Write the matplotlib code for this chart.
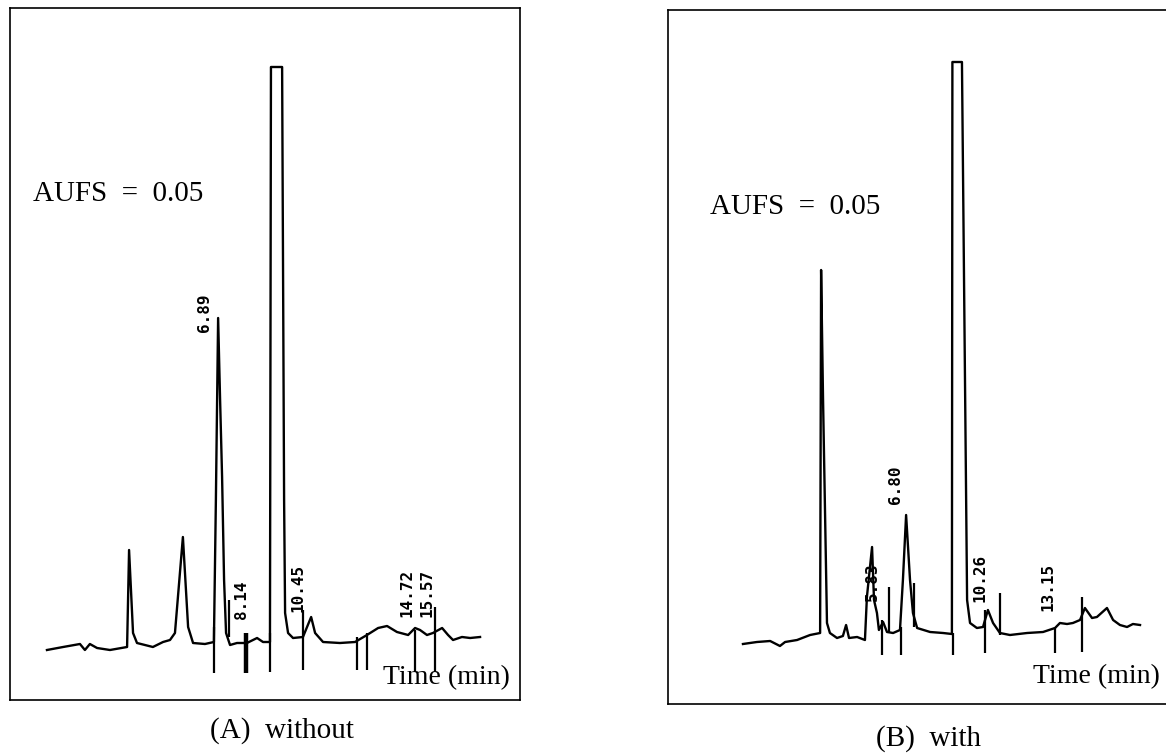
import matplotlib.pyplot as plt

# chromatogram (A) without -- time (min) vs detector response (arb. units)
time_a = [0.00, 0.65, 1.33, 1.53, 1.73, 2.02, 2.54, 3.23, 3.31, 3.47, 3.63,
          4.27, 4.68, 4.96, 5.16, 5.48, 5.69, 5.89, 6.37, 6.73, 6.81, 6.90,
          6.98, 7.06, 7.14, 7.22, 7.38, 7.66, 8.06, 8.47, 8.71, 8.99, 9.03,
          9.48, 9.56, 9.60, 9.72, 9.92, 10.32, 10.65, 10.81, 11.13, 11.81,
          12.42, 12.90, 13.35, 13.71, 14.11, 14.56, 14.84, 15.04, 15.32,
          15.56, 15.93, 16.17, 16.37, 16.73, 17.06, 17.46]
resp_a = [5.0, 5.3, 5.6, 5.0, 5.6, 5.2, 5.0, 5.3, 15.0, 6.7, 5.7,
          5.3, 5.8, 6.0, 6.7, 16.3, 7.3, 5.7, 5.6, 5.8, 20.0, 38.2,
          30.0, 22.3, 12.0, 6.7, 5.5, 5.7, 5.7, 6.2, 5.8, 5.8, 63.3,
          63.3, 20.0, 8.7, 6.7, 6.2, 6.3, 8.3, 6.7, 5.8, 5.7,
          5.8, 6.5, 7.2, 7.4, 6.8, 6.5, 7.2, 7.0, 6.5,
          6.7, 7.2, 6.5, 6.0, 6.3, 6.2, 6.3]
# integrator event marks (time, top, bottom)
mark_a_t = [6.73, 8.02, 8.99, 10.32, 12.50, 12.90, 14.84, 15.65, 7.34]
mark_a_hi = [7.3, 6.7, 6.7, 9.0, 6.3, 6.7, 7.0, 9.3, 10.0]
mark_a_lo = [2.7, 2.7, 2.8, 3.0, 3.0, 3.0, 2.8, 2.8, 6.3]
rt_a = ['6.89', '8.14', '10.45', '14.72', '15.57']

# chromatogram (B) with
time_b = [0.16, 0.73, 1.27, 1.67, 1.88, 2.37, 2.90, 3.31, 3.35, 3.43, 3.59,
          3.71, 4.00, 4.24, 4.37, 4.49, 4.82, 5.14, 5.22, 5.43, 5.51, 5.63,
          5.71, 5.88, 6.04, 6.29, 6.57, 6.69, 6.82, 6.98, 7.10, 7.27, 7.80,
          8.33, 8.69, 8.71, 9.10, 9.31, 9.43, 9.71, 9.96, 10.16, 10.37,
          10.65, 11.06, 11.76, 12.41, 12.90, 13.10, 13.39, 13.63, 13.92,
          14.12, 14.41, 14.61, 15.02, 15.27, 15.55, 15.84, 16.08, 16.37]
resp_b = [5.6, 5.8, 5.9, 5.4, 5.8, 6.0, 6.5, 6.7, 43.0, 30.0, 7.7,
          6.7, 6.2, 6.4, 7.5, 6.2, 6.3, 6.0, 10.3, 15.3, 10.0, 8.7,
          7.0, 7.8, 6.8, 6.7, 7.0, 12.0, 18.5, 12.0, 8.7, 7.2, 6.8,
          6.7, 6.6, 63.8, 63.8, 10.0, 7.7, 7.2, 7.3, 9.0, 7.7,
          6.7, 6.5, 6.7, 6.8, 7.2, 7.7, 7.6, 7.7, 8.0,
          9.2, 8.2, 8.3, 9.2, 8.0, 7.5, 7.3, 7.6, 7.5]
mark_b_t = [5.84, 6.61, 8.73, 10.04, 12.90, 14.00, 6.12, 7.14, 10.65]
mark_b_hi = [8.0, 7.3, 6.7, 9.0, 7.3, 10.3, 11.3, 11.7, 10.7]
mark_b_lo = [4.5, 4.5, 4.5, 4.7, 4.7, 4.8, 6.7, 7.3, 6.5]
rt_b = ['5.83', '6.80', '10.26', '13.15']

serif = 'Liberation Serif'
mono = 'DejaVu Sans Mono'

fig = plt.figure(figsize=(11.66, 7.55), dpi=100)


def panel(rect, xlim, ylim, t, r, mt, mhi, mlo, thick, labels, lx, ly, aufs_xy, time_xy):
    ax = fig.add_axes(rect)
    ax.plot(t, r, color='black', lw=1.7)
    for i in range(len(mt)):
        ax.plot([mt[i], mt[i]], [mlo[i], mhi[i]], color='black',
                lw=3.2 if i in thick else 1.6, solid_capstyle='butt')
    for s, x, y in zip(labels, lx, ly):
        ax.text(x, y, s, rotation=90, ha='center', va='center',
                family=mono, fontsize=11.5, fontweight='bold')
    ax.text(*aufs_xy, 'AUFS  =  0.05', transform=ax.transAxes, ha='left',
            va='center', family=serif, fontsize=21)
    ax.text(*time_xy, 'Time (min)', transform=ax.transAxes, ha='right',
            va='center', family=serif, fontsize=20)
    ax.set_xlim(*xlim)
    ax.set_ylim(*ylim)
    ax.set_xticks([])
    ax.set_yticks([])
    for sp in ax.spines.values():
        sp.set_linewidth(1.2)
    return ax


ax1 = panel([10 / 1166, 55 / 755, 510 / 1166, 692 / 755], (-1.49, 19.07), (0, 69.2),
            time_a, resp_a, mark_a_t, mark_a_hi, mark_a_lo, [1], rt_a,
            [6.37, 7.86, 10.12, 14.52, 15.32], [38.7, 10.0, 11.2, 10.7, 10.7],
            (0.045, 0.731), (0.980, 0.033))

ax2 = panel([668 / 1166, 51 / 755, 498 / 1166, 694 / 755], (-2.90, 17.43), (-0.4, 69.0),
            time_b, resp_b, mark_b_t, mark_b_hi, mark_b_lo, [], rt_b,
            [5.43, 6.37, 9.84, 12.61], [11.8, 21.5, 12.2, 11.3],
            (0.084, 0.716), (0.988, 0.040))
ax2.spines['right'].set_visible(False)

fig.text(282 / 1166, 1 - 731 / 755, '(A)  without', ha='center', va='center',
         family=serif, fontsize=21)
fig.text(929 / 1166, 1 - 739 / 755, '(B)  with', ha='center', va='center',
         family=serif, fontsize=21)

fig.savefig('out.png', dpi=100)
